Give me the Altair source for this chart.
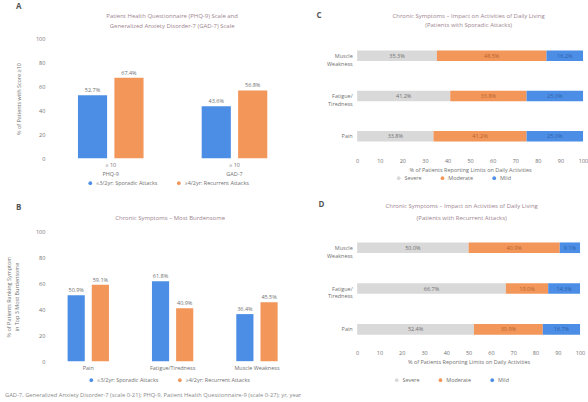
import altair as alt
import pandas as pd

FONT = "Open Sans"
BLUE = "#4c8ee6"
ORANGE = "#f2965a"
GREY = "#d9d9d9"
TXT = "#707070"
TITLE = "#9c8590"

series = ["≤3/2yr: Sporadic Attacks", "≥4/2yr: Recurrent Attacks"]

a_groups = ["PHQ-9", "GAD-7"]
a_sporadic = [52.7, 43.6]
a_recurrent = [67.4, 56.8]

b_groups = ["Pain", "Fatigue/Tiredness", "Muscle Weakness"]
b_sporadic = [50.9, 61.8, 36.4]
b_recurrent = [59.1, 40.9, 45.5]

symptoms = ["Muscle Weakness", "Fatigue/Tiredness", "Pain"]
levels = ["Severe", "Moderate", "Mild"]
c_severe = [35.3, 41.2, 33.8]
c_moderate = [48.5, 33.8, 41.2]
c_mild = [16.2, 25.0, 25.0]
d_severe = [50.0, 66.7, 52.4]
d_moderate = [40.9, 19.0, 30.9]
d_mild = [9.1, 14.3, 16.7]

title_a = ["Patient Health Questionnaire (PHQ-9) Scale and",
           "Generalized Anxiety Disorder-7 (GAD-7) Scale"]
title_b = ["Chronic Symptoms – Most Burdensome"]
title_c = ["Chronic Symptoms – Impact on Activities of Daily Living",
           "(Patients with Sporadic Attacks)"]
title_d = ["Chronic Symptoms – Impact on Activities of Daily Living",
           "(Patients with Recurrent Attacks)"]

footnote = ("GAD-7, Generalized Anxiety Disorder-7 (scale 0-21); PHQ-9, Patient Health "
            "Questionnaire-9 (scale 0-27); yr, year")


def text_layer(txt, dx, dy, size=8, weight="bold", color="#555555", align="left"):
    return alt.Chart(pd.DataFrame({"t": [txt]})).mark_text(
        font=FONT, fontSize=size, fontWeight=weight,
        align=align, baseline="middle"
    ).encode(x=alt.value(dx), y=alt.value(dy), text="t:N", color=alt.value(color))


def title_layers(lines, cx, ys):
    return [text_layer(t, cx, y, size=6, weight="normal", color=TITLE, align="center")
            for t, y in zip(lines, ys)]


def legend(lx, ly):
    return alt.Legend(title=None, orient="none", legendX=lx, legendY=ly,
                      direction="horizontal", symbolType="circle", symbolSize=14,
                      symbolStrokeWidth=0, labelFontSize=5.5, labelColor=TXT,
                      labelFont=FONT, columnPadding=18, labelOffset=3)


def grouped_panel(groups, s1, s2, label_expr, title, title_cx, title_ys, ytitle, w, h,
                  pi, po, opi, lx, ly, letter, letter_pos, ytitle_pad):
    rows = []
    for g, v1, v2 in zip(groups, s1, s2):
        rows.append({"group": g, "series": series[0], "value": v1})
        rows.append({"group": g, "series": series[1], "value": v2})
    df = pd.DataFrame(rows)
    df["label"] = df["value"].map(lambda v: f"{v:.1f}%")
    x = alt.X("group:N", sort=groups,
              scale=alt.Scale(paddingInner=pi, paddingOuter=po),
              axis=alt.Axis(title=None, labelAngle=0, domain=False, ticks=False,
                            labelPadding=4, labelFontSize=5.5, labelColor=TXT,
                            labelFont=FONT, labelExpr=label_expr, labelLineHeight=9))
    xo = alt.XOffset("series:N", sort=series, scale=alt.Scale(paddingInner=opi))
    y = alt.Y("value:Q", scale=alt.Scale(domain=[0, 100]),
              axis=alt.Axis(values=[0, 20, 40, 60, 80, 100], grid=False, domain=False,
                            ticks=False, labelPadding=6, labelFontSize=5.5,
                            labelColor=TXT, labelFont=FONT, title=ytitle,
                            titleFontSize=5.5, titleColor=TXT, titleFont=FONT,
                            titleFontWeight="normal", titlePadding=ytitle_pad,
                            titleLineHeight=8))
    bars = alt.Chart(df).mark_bar().encode(
        x=x, xOffset=xo, y=y,
        color=alt.Color("series:N", sort=series,
                        scale=alt.Scale(domain=series, range=[BLUE, ORANGE]),
                        legend=legend(lx, ly)))
    labels = alt.Chart(df).mark_text(dy=-5, fontSize=5.5, font=FONT).encode(
        x=x, xOffset=xo, y=y, text="label:N", color=alt.value(TXT))
    lay = alt.layer(bars, labels, text_layer(letter, *letter_pos),
                    *title_layers(title, title_cx, title_ys))
    return lay.properties(width=w, height=h)


def stacked_panel(sev, mod, mild, title, title_cx, title_ys, w, h, pi, po, lx, ly,
                  letter, letter_pos):
    tcol = {"Severe": "#6f6f6f", "Moderate": "#b5642f", "Mild": "#2c5ea6"}
    rows = []
    for s, vals in zip(symptoms, zip(sev, mod, mild)):
        start = 0.0
        for lev, v in zip(levels, vals):
            rows.append({"symptom": s, "level": lev, "start": start, "end": start + v,
                         "mid": start + v / 2, "label": f"{v:.1f}%", "tc": tcol[lev]})
            start += v
    df = pd.DataFrame(rows)
    y = alt.Y("symptom:N", sort=symptoms,
              scale=alt.Scale(paddingInner=pi, paddingOuter=po),
              axis=alt.Axis(title=None, domain=False, ticks=False, labelFontSize=5.5,
                            labelColor=TXT, labelFont=FONT, labelPadding=5,
                            labelLineHeight=8,
                            labelExpr="datum.label == 'Muscle Weakness' ? ['Muscle', 'Weakness'] : datum.label == 'Fatigue/Tiredness' ? ['Fatigue/', 'Tiredness'] : datum.label"))
    xaxis = alt.Axis(values=list(range(0, 101, 10)), grid=False, domain=False,
                     ticks=False, labelFontSize=5.5, labelColor=TXT,
                     labelFont=FONT, labelPadding=5,
                     title="% of Patients Reporting Limits on Daily Activities",
                     titleFontSize=5.5, titleFontWeight="normal",
                     titleColor=TXT, titleFont=FONT, titlePadding=4)
    bars = alt.Chart(df).mark_bar().encode(
        y=y,
        x=alt.X("start:Q", scale=alt.Scale(domain=[0, 100]), axis=xaxis),
        x2="end:Q",
        color=alt.Color("level:N", sort=levels,
                        scale=alt.Scale(domain=levels, range=[GREY, ORANGE, BLUE]),
                        legend=legend(lx, ly)))
    labels = alt.Chart(df).mark_text(fontSize=5.5, font=FONT).encode(
        y=y,
        x=alt.X("mid:Q", scale=alt.Scale(domain=[0, 100]), axis=xaxis),
        text="label:N",
        color=alt.Color("tc:N", scale=None))
    lay = alt.layer(bars, labels, text_layer(letter, *letter_pos),
                    *title_layers(title, title_cx, title_ys))
    return lay.properties(width=w, height=h)


A = grouped_panel(a_groups, a_sporadic, a_recurrent, "['≥ 10', datum.label]",
                  title_a, 122, [-23, -13],
                  "% of Patients with Score ≥10", 245, 120, 0.47, 0.22, 0.2,
                  37, 142, "A", (-35, -32), 14)

B = grouped_panel(b_groups, b_sporadic, b_recurrent, "datum.label",
                  title_b, 120, [-14],
                  ["% of Patients Ranking Symptom", "in Top 3 Most Burdensome"],
                  245, 130, 0.51, 0.2, 0.29, 38, 146, "B", (-35, -24), 16)
B = alt.layer(B, text_layer(footnote, -46, 164, size=5.8, weight="normal", color="#8a8a8a"))

C = stacked_panel(c_severe, c_moderate, c_mild, title_c, 112, [-23, -14],
                  227, 115, 0.74, 0.29, 39, 137, "C", (-41, -23))

D = stacked_panel(d_severe, d_moderate, d_mild, title_d, 105, [-26, -14],
                  224, 114, 0.74, 0.26, 37, 146, "D", (-39, -27))

chart = alt.concat(A, C, B, D, columns=2, spacing={"row": 74, "column": 63},
                   bounds="flush", align="each").resolve_scale(
    color="independent", x="independent", y="independent", xOffset="independent"
).configure_view(stroke=None).configure_axis(
    labelOverlap=False, labelFlush=False
).properties(
    padding={"left": 5, "top": 2, "right": 0, "bottom": 0}, background="white")

chart.save("out.html", embed_options={"renderer": "svg", "actions": False})
